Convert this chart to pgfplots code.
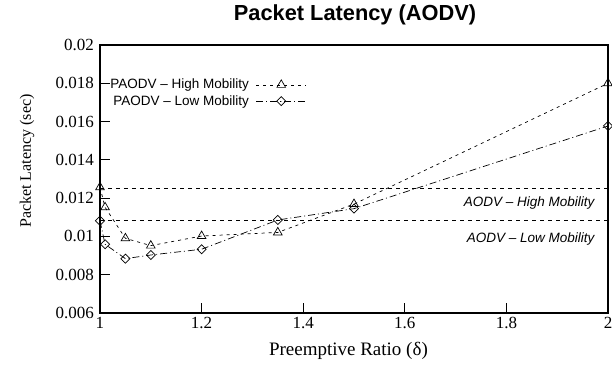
\documentclass[border=0pt]{standalone}
\usepackage{pgfplots}
\pgfplotsset{compat=1.18}
\usepackage{fontspec}
\setmainfont{Liberation Serif}
\newfontfamily\arial{Liberation Sans}
\newcommand{\tfont}{\rmfamily\fontsize{17}{19}\selectfont}
\begin{document}
\begin{tikzpicture}
\useasboundingbox (-100pt,-56pt) rectangle (512pt,313pt);
\begin{axis}[
  at={(0pt,0pt)}, anchor=south west,
  scale only axis, width=508pt, height=268pt,
  xmin=1, xmax=2, ymin=0.006, ymax=0.02,
  scaled y ticks=false, scaled x ticks=false,
  xtick={1,1.2,1.4,1.6,1.8,2},
  xticklabels={{\tfont 1},{\tfont 1.2},{\tfont 1.4},{\tfont 1.6},{\tfont 1.8},{\tfont 2}},
  ytick={0.006,0.008,0.01,0.012,0.014,0.016,0.018,0.02},
  yticklabels={{\tfont 0.006},{\tfont 0.008},{\tfont 0.01},{\tfont 0.012},{\tfont 0.014},{\tfont 0.016},{\tfont 0.018},{\tfont 0.02}},
  tick align=inside, xtick pos=bottom, ytick pos=left,
  major tick length=10pt,
  axis line style={line width=1.5pt},
  tick style={line width=1.2pt, black},
  xticklabel style={inner sep=2pt, yshift=-2pt},
  yticklabel style={inner sep=2pt, xshift=-4pt},
  clip=false,
  title={Packet Latency (AODV)},
  title style={font=\arial\bfseries\fontsize{21.8}{24}\selectfont, at={(axis description cs:0.502,1)}, anchor=base, yshift=18pt},
  xlabel={Preemptive Ratio (δ)},
  xlabel style={font=\fontsize{19}{21}\selectfont, at={(axis description cs:0.489,0)}, anchor=base, yshift=-42pt},
  ylabel={Packet Latency (sec)},
  ylabel style={font=\fontsize{16}{18}\selectfont, at={(axis description cs:-0.1437,0.567)}, anchor=center},
  legend style={draw=none, fill=none, at={(rel axis cs:0.413,0.888)}, anchor=north east,
    font=\arial\fontsize{13.5}{15}\selectfont, row sep=1pt},
  legend cell align=right,
  legend plot pos=right,
  legend image code/.code={\path (0pt,0pt) (55pt,0pt);\draw[mark repeat=2,mark phase=2,#1] plot coordinates {(5pt,0pt) (30pt,0pt) (55pt,0pt)};},
]
\addplot[black, line width=0.7pt, dash pattern=on 3pt off 4pt, mark=triangle, mark size=5pt, mark options={solid, line width=0.7pt}]
coordinates {(1,0.01257) (1.01,0.01152) (1.05,0.0099) (1.1,0.00952) (1.2,0.01002) (1.35,0.01021) (1.5,0.01169) (2,0.018)};
\addlegendentry{PAODV – High Mobility}
\addplot[black, line width=0.7pt, dash pattern=on 7pt off 3pt on 1pt off 3pt, mark=square, mark size=3.2pt, mark options={solid, rotate=45, line width=0.7pt}]
coordinates {(1,0.01082) (1.01,0.00959) (1.05,0.00884) (1.1,0.00903) (1.2,0.00933) (1.35,0.01086) (1.5,0.01145) (2,0.01577)};
\addlegendentry{PAODV – Low Mobility}
\addplot[black, line width=0.7pt, dash pattern=on 4pt off 4pt, forget plot] coordinates {(1,0.01253) (2,0.01253)};
\addplot[black, line width=0.7pt, dash pattern=on 4pt off 4pt, forget plot] coordinates {(1,0.01084) (2,0.01084)};
\node[anchor=east, font=\arial\itshape\fontsize{13.5}{15}\selectfont] at (axis cs:1.980,0.01175) {AODV – High Mobility};
\node[anchor=east, font=\arial\itshape\fontsize{13.5}{15}\selectfont] at (axis cs:1.980,0.00987) {AODV – Low Mobility};
\end{axis}
\end{tikzpicture}
\end{document}
